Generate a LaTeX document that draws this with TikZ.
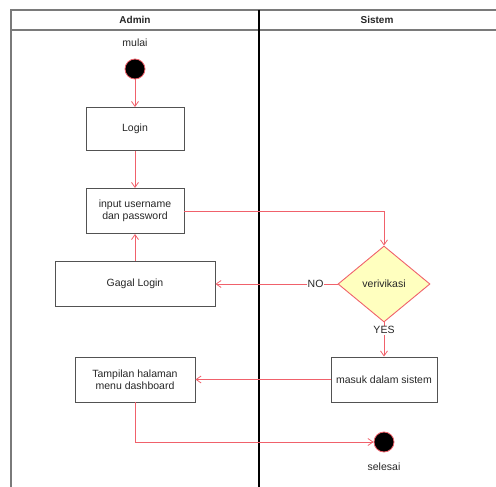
\documentclass[tikz,border=0pt]{standalone}
\usepackage{fontspec}
\setmainfont{Liberation Sans}
\usetikzlibrary{shapes.geometric, arrows.meta}
\definecolor{flow}{rgb}{0.94, 0.38, 0.42}
\definecolor{decfill}{rgb}{1.0, 1.0, 0.75}
\definecolor{lane}{rgb}{0.2, 0.2, 0.2}
\definecolor{ink}{rgb}{0.15, 0.15, 0.15}
\tikzstyle{act} = [rectangle,draw=lane!85,line width=0.9pt,text centered,align=center,minimum height=45pt,inner sep=1pt]
\tikzstyle{dot} = [circle,draw=flow,line width=0.8pt,fill=black,minimum size=20pt,inner sep=0pt]
\tikzstyle{dec} = [diamond,draw=flow,line width=0.9pt,fill=decfill,minimum width=92pt,minimum height=76pt,inner sep=0pt]
\tikzstyle{flowline} = [draw=flow,line width=0.8pt,-{Straight Barb[length=5pt,width=7pt]}]
\tikzstyle{tag} = [fill=white,inner sep=1pt]

\begin{document}
\begin{tikzpicture}[x=1pt,y=-1pt,node distance=30pt,text=ink,font=\fontsize{10.5}{12}\selectfont]
		\useasboundingbox (0,0) rectangle (496,487);
		% swimlanes
		\draw[lane!65,line width=1.2pt] (11,487)--(11,10)--(496,10);
		\draw[lane!65,line width=1.2pt] (11,30)--(496,30);
		\draw[black,line width=1.3pt] (259,10)--(259,487);
		\node[font=\fontsize{10}{12}\selectfont\bfseries](admin) at (135,20){Admin};
		\node[font=\fontsize{10}{12}\selectfont\bfseries](sistem) at (377,20){Sistem};

		\node [dot](s) at (135,69){};
		\node [above of=s,yshift=-4pt](mulai){mulai};
		\node [act,below of=s,yshift=-30pt,minimum width=98pt,minimum height=43pt](login){Login};
		\node [act,below of=login,yshift=-52pt,minimum width=98pt](input){input username\\dan password};
		\node [act,below of=input,yshift=-43pt,minimum width=160pt](gagal){Gagal Login};
		\node [dec,right of=gagal,xshift=219pt](v){verivikasi};
		\node [act,below of=v,yshift=-65.5pt,minimum width=106pt](masuk){masuk dalam sistem};
		\node [act,left of=masuk,xshift=-219pt,minimum width=120pt](tampil){Tampilan halaman\\menu dashboard};
		\node [dot,below of=masuk,yshift=-32.5pt](e){};
		\node [below of=e,yshift=5pt](selesai){selesai};

		\draw[flowline](s)--(login);
		\draw[flowline](login)--(input);
		\draw[flowline](input)-|(v);
		\draw[flowline](v)--node[tag,pos=0.18]{NO}(gagal);
		\draw[flowline](gagal)--(input);
		\draw[flowline](v)--node[tag,pos=0.23]{YES}(masuk);
		\draw[flowline](masuk)--(tampil);
		\draw[flowline](tampil)|-(e);
		\end{tikzpicture}
\end{document}
